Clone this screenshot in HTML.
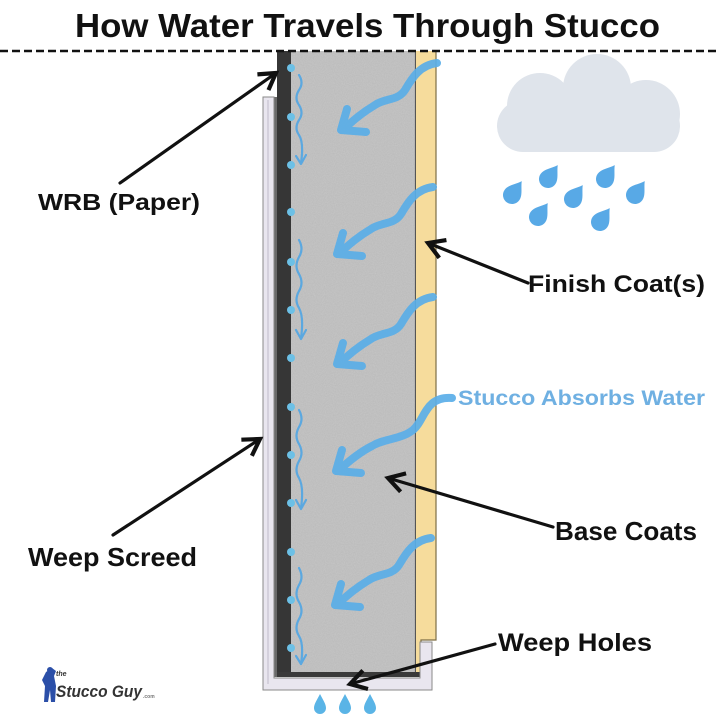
<!DOCTYPE html>
<html>
<head>
<meta charset="utf-8">
<style>
  html,body{margin:0;padding:0;background:#fff;}
  svg{display:block;}
  text{font-family:"Liberation Sans",sans-serif;font-weight:bold;}
</style>
</head>
<body>
<svg width="720" height="720" viewBox="0 0 720 720" xmlns="http://www.w3.org/2000/svg">
  <defs>
    <filter id="grain" x="0" y="0" width="100%" height="100%">
      <feTurbulence type="fractalNoise" baseFrequency="0.9" numOctaves="2" seed="3" result="n"/>
      <feColorMatrix in="n" type="matrix" values="0 0 0 0 0.72  0 0 0 0 0.72  0 0 0 0 0.72  0 0 0 0.35 0" result="c"/>
      <feComposite in="c" in2="SourceGraphic" operator="in" result="cc"/>
      <feMerge><feMergeNode in="SourceGraphic"/><feMergeNode in="cc"/></feMerge>
    </filter>
    <marker id="ah" markerWidth="8" markerHeight="8" refX="6" refY="4" orient="auto" markerUnits="strokeWidth">
      <path d="M1,1 L6,4 L1,7" fill="none" stroke="#111" stroke-width="1.3" stroke-linejoin="miter"/>
    </marker>
    <path id="drop" d="M0 -15 C3 -9, 9 -4, 9 2 A9 9 0 0 1 -9 2 C-9 -4, -3 -9, 0 -15 Z"/>
  </defs>

  <rect width="720" height="720" fill="#fff"/>

  <!-- Title -->
  <text x="75" y="37" font-size="33" fill="#111" textLength="585" lengthAdjust="spacingAndGlyphs">How Water Travels Through Stucco</text>

  <!-- Wall: base coat -->
  <rect x="290" y="51" width="126" height="622" fill="#b9b9b9" filter="url(#grain)"/>
  <line x1="415.5" y1="51" x2="415.5" y2="673" stroke="#555" stroke-width="1.2"/>
  <!-- Finish coat -->
  <path d="M416 51 H436 V640 H421 V677 H416 Z" fill="#f6dc9c"/>
  <path d="M436 51 V640 H421 V677" fill="none" stroke="#7d6e45" stroke-width="1.2"/>
  <!-- WRB -->
  <rect x="277" y="51" width="14" height="626" fill="#363636"/>
  <rect x="274" y="97" width="3" height="580" fill="#6a6a6a"/>
  <!-- bottom dark band -->
  <rect x="277" y="672" width="144" height="5" fill="#3a3a3a"/>

  <!-- Weep screed -->
  <path d="M263 97 H274 V678 H420 V642 H432 V690 H263 Z" fill="#e9e6ef" stroke="#8a8a8a" stroke-width="1"/>
  <line x1="268" y1="100" x2="268" y2="684" stroke="#d4d0dc" stroke-width="2"/>

  <!-- dashed top line -->
  <line x1="0" y1="51" x2="720" y2="51" stroke="#111" stroke-width="2.5" stroke-dasharray="8 4"/>

  <!-- dots on WRB edge -->
  <g fill="#6cc0e6">
    <circle cx="291" cy="68" r="4"/><circle cx="291" cy="117" r="4"/><circle cx="291" cy="165" r="4"/>
    <circle cx="291" cy="212" r="4"/><circle cx="291" cy="262" r="4"/><circle cx="291" cy="310" r="4"/>
    <circle cx="291" cy="358" r="4"/><circle cx="291" cy="407" r="4"/><circle cx="291" cy="455" r="4"/>
    <circle cx="291" cy="503" r="4"/><circle cx="291" cy="552" r="4"/><circle cx="291" cy="600" r="4"/>
    <circle cx="291" cy="648" r="4"/>
  </g>

  <!-- small drips -->
  <g fill="none" stroke="#5ba8e0" stroke-width="2.2" stroke-linecap="round" stroke-linejoin="round">
    <path d="M299 75 q5 8 0 15 q-5 8 0 15 q5 8 0 15 q-5 8 0 15 q5 8 2 28"/>
    <path d="M296 156 L301 164 L306 155"/>
    <path d="M299 240 q5 9 0 17 q-5 9 0 17 q5 9 0 17 q-5 9 0 17 q5 9 2 30"/>
    <path d="M296 330 L301 339 L306 330"/>
    <path d="M299 410 q5 9 0 17 q-5 9 0 17 q5 9 0 17 q-5 9 0 17 q5 9 2 30"/>
    <path d="M296 500 L301 509 L306 500"/>
    <path d="M299 568 q5 9 0 17 q-5 9 0 17 q5 9 0 17 q-5 9 0 17 q5 8 2 28"/>
    <path d="M296 656 L301 664 L306 655"/>
  </g>

  <!-- big blue wavy arrows -->
  <g fill="none" stroke="#5aaee8" stroke-width="8" stroke-linecap="round" stroke-linejoin="round" opacity="0.92">
    <g transform="translate(0,63)">
      <path d="M437 0 C420 2, 412 15, 405 27 C398 38, 385 35, 375 42 C365 48, 355 55, 343 67"/>
      <path d="M347 46 L341 67 L366 69"/>
    </g>
    <g transform="translate(-4,187)">
      <path d="M437 0 C420 2, 412 15, 405 27 C398 38, 385 35, 375 42 C365 48, 355 55, 343 67"/>
      <path d="M347 46 L341 67 L366 69"/>
    </g>
    <g transform="translate(-4,297)">
      <path d="M437 0 C420 2, 412 15, 405 27 C398 38, 385 35, 375 42 C365 48, 355 55, 343 67"/>
      <path d="M347 46 L341 67 L366 69"/>
    </g>
    <path d="M452 398 C425 396, 425 420, 413 430 C400 440, 385 438, 372 446 C360 452, 350 460, 338 471"/>
    <path d="M342 450 L336 471 L361 473"/>
    <g transform="translate(-6,538)">
      <path d="M437 0 C420 2, 412 15, 405 27 C398 38, 385 35, 375 42 C365 48, 355 55, 343 67"/>
      <path d="M347 46 L341 67 L366 69"/>
    </g>
  </g>

  <!-- Cloud -->
  <g fill="#dfe4eb">
    <rect x="497" y="100" width="183" height="52" rx="26"/>
    <circle cx="540" cy="106" r="33"/>
    <circle cx="597" cy="88" r="34"/>
    <circle cx="646" cy="114" r="34"/>
  </g>

  <!-- Rain drops -->
  <g fill="#58a9e6">
    <use href="#drop" transform="translate(512,195) rotate(35) translate(0,-2)"/>
    <use href="#drop" transform="translate(548,179) rotate(35) translate(0,-2)"/>
    <use href="#drop" transform="translate(538,217) rotate(35) translate(0,-2)"/>
    <use href="#drop" transform="translate(573,199) rotate(35) translate(0,-2)"/>
    <use href="#drop" transform="translate(605,179) rotate(35) translate(0,-2)"/>
    <use href="#drop" transform="translate(600,222) rotate(35) translate(0,-2)"/>
    <use href="#drop" transform="translate(635,195) rotate(35) translate(0,-2)"/>
  </g>

  <!-- weep hole drops -->
  <g fill="#5ab4e6">
    <path transform="translate(320,706)" d="M0 -12 C3 -6, 6 -2, 6 2 A6 6 0 0 1 -6 2 C-6 -2, -3 -6, 0 -12 Z"/>
    <path transform="translate(345,706)" d="M0 -12 C3 -6, 6 -2, 6 2 A6 6 0 0 1 -6 2 C-6 -2, -3 -6, 0 -12 Z"/>
    <path transform="translate(370,706)" d="M0 -12 C3 -6, 6 -2, 6 2 A6 6 0 0 1 -6 2 C-6 -2, -3 -6, 0 -12 Z"/>
  </g>

  <!-- Black pointer arrows -->
  <g stroke="#111" stroke-width="3.2" fill="none" stroke-linecap="round">
    <line x1="120" y1="183" x2="276" y2="73" marker-end="url(#ah)"/>
    <line x1="528" y1="283" x2="428" y2="243" marker-end="url(#ah)"/>
    <line x1="553" y1="527" x2="388" y2="478" marker-end="url(#ah)"/>
    <line x1="113" y1="535" x2="260" y2="439" marker-end="url(#ah)"/>
    <line x1="495" y1="644" x2="350" y2="684" marker-end="url(#ah)"/>
  </g>

  <!-- Labels -->
  <text x="38" y="210" font-size="23" fill="#111" textLength="162" lengthAdjust="spacingAndGlyphs">WRB (Paper)</text>
  <text x="528" y="292" font-size="24" fill="#111" textLength="177" lengthAdjust="spacingAndGlyphs">Finish Coat(s)</text>
  <text x="458" y="405" font-size="21" fill="#6fb0e2" textLength="247" lengthAdjust="spacingAndGlyphs">Stucco Absorbs Water</text>
  <text x="555" y="540" font-size="26" fill="#111" textLength="142" lengthAdjust="spacingAndGlyphs">Base Coats</text>
  <text x="28" y="566" font-size="26" fill="#111" textLength="169" lengthAdjust="spacingAndGlyphs">Weep Screed</text>
  <text x="498" y="651" font-size="25" fill="#111" textLength="154" lengthAdjust="spacingAndGlyphs">Weep Holes</text>

  <!-- Logo -->
  <g>
    <path d="M46 672 L52 668 L56 671 L54 676 L56 686 L55 702 L51 702 L50 690 L48 702 L44 702 L45 686 L42 680 Z" fill="#2b4fa8"/>
    <circle cx="50" cy="670" r="3" fill="#2b4fa8"/>
    <text x="56" y="676" font-size="7" fill="#333" font-family="Liberation Serif, serif" font-style="italic">the</text>
    <text x="56" y="697" font-size="17" fill="#333" font-family="Liberation Serif, serif" font-style="italic" font-weight="normal" textLength="86" lengthAdjust="spacingAndGlyphs">Stucco Guy</text>
    <text x="143" y="698" font-size="5" fill="#777" font-family="Liberation Sans, sans-serif" font-weight="normal">.com</text>
  </g>
</svg>
</body>
</html>
